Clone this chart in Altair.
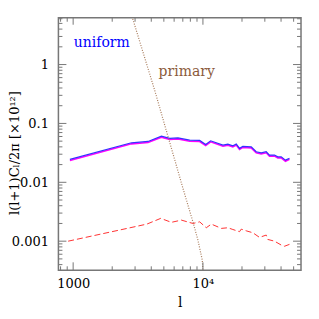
import altair as alt
import pandas as pd

# uniform (blue) and its companion (magenta)
l_uni = [944, 2813, 3776, 4786, 5546, 6427, 7907, 9441, 10499, 11470, 14270, 15570, 17010,
         18070, 19150, 20300, 23570, 25740, 28120, 30740, 32580, 35620, 37760, 40110, 43250, 46440]
c_blue = [0.0245, 0.0469, 0.0494, 0.0608, 0.0556, 0.0569, 0.052, 0.0514, 0.044, 0.0507, 0.0428,
          0.0446, 0.0417, 0.0446, 0.0377, 0.0407, 0.0401, 0.033, 0.0317, 0.033, 0.029, 0.029,
          0.0271, 0.0271, 0.0238, 0.0255]
c_mag = [0.0235, 0.045, 0.0474, 0.0584, 0.0534, 0.0546, 0.0499, 0.0493, 0.0422, 0.0487, 0.0411,
         0.0428, 0.04, 0.0428, 0.0362, 0.0391, 0.0385, 0.0317, 0.0304, 0.0317, 0.0278, 0.0278,
         0.026, 0.026, 0.0228, 0.0245]

# red dashed
l_red = [915, 3700, 4730, 5715, 6823, 8375, 9441, 10610, 11610, 13870, 15560, 17010, 19150,
         19720, 21560, 24260, 27290, 30740, 31620, 35620, 40110, 42500, 46440]
c_red = [0.001, 0.00195, 0.00244, 0.00209, 0.00228, 0.002, 0.00213, 0.00169, 0.00195, 0.00165,
         0.00169, 0.00158, 0.00145, 0.0016, 0.0015, 0.00139, 0.00116, 0.00127, 0.00107, 0.001,
         0.00086, 0.00082, 0.000883]

# primary (brown dotted)
l_pri = [2806, 4246, 7020, 8375, 9155, 9886, 10000, 10100]
c_pri = [7.2, 0.368, 0.00787, 0.00213, 0.00104, 0.000478, 0.00032, 0.0002]

# ticks
x_major = [1000, 10000]
x_minor = [800, 900, 2000, 3000, 4000, 5000, 6000, 7000, 8000, 9000, 20000, 30000, 40000, 50000]
y_major = [0.001, 0.01, 0.1, 1]
y_minor = [0.0004, 0.0005, 0.0006, 0.0007, 0.0008, 0.0009,
           0.002, 0.003, 0.004, 0.005, 0.006, 0.007, 0.008, 0.009,
           0.02, 0.03, 0.04, 0.05, 0.06, 0.07, 0.08, 0.09,
           0.2, 0.3, 0.4, 0.5, 0.6, 0.7, 0.8, 0.9,
           2, 3, 4, 5, 6]

# annotations
lab_text = ["uniform", "primary"]
lab_l = [1663, 7500]
lab_c = [2.31, 0.743]
lab_col = ["#0000ff", "#8b5a3a"]

W, H = 243, 253
FONT = "DejaVu Serif"
AX = "#777777"

xs = alt.Scale(type="log", domain=[770, 57000], nice=False)
ys = alt.Scale(type="log", domain=[3.2e-4, 6.24], nice=False)

xaxis = alt.Axis(values=x_major, labelExpr="datum.value == 1000 ? '1000' : '10⁴'",
                 ticks=False, domain=False, grid=False, labelPadding=7, labelFontSize=13,
                 labelFont=FONT, labelColor="black", title="l", titleFont=FONT,
                 titleFontSize=14, titleFontWeight="normal", titleY=36,
                 titleBaseline="alphabetic", titleColor="black")
yaxis = alt.Axis(values=y_major, format="~g", ticks=False, domain=False, grid=False,
                 labelPadding=10, labelFontSize=13, labelFont=FONT, labelColor="black",
                 title="l(l+1)Cₗ/2π  [×10¹²]", titleFont=FONT, titleFontSize=13,
                 titleFontWeight="normal", titleAngle=270, titleX=-44, titleY=135,
                 titleAlign="center", titleBaseline="middle", titleColor="black")

df_b = pd.DataFrame({"l": l_uni, "c": c_blue})
df_m = pd.DataFrame({"l": l_uni, "c": c_mag})
df_r = pd.DataFrame({"l": l_red, "c": c_red})
df_p = pd.DataFrame({"l": l_pri, "c": c_pri})
df_lab = pd.DataFrame({"l": lab_l, "c": lab_c, "t": lab_text, "col": lab_col})

base_x = alt.X("l:Q", scale=xs, axis=xaxis)
base_y = alt.Y("c:Q", scale=ys, axis=yaxis)

mag = alt.Chart(df_m).mark_line(color="#ff00ff", strokeWidth=1.6, clip=True).encode(x=base_x, y=base_y)
blue = alt.Chart(df_b).mark_line(color="#3333ff", strokeWidth=1.2, clip=True).encode(x=base_x, y=base_y)
red = alt.Chart(df_r).mark_line(color="#ff3333", strokeWidth=1, strokeDash=[6, 3], clip=True).encode(x=base_x, y=base_y)
pri = alt.Chart(df_p).mark_line(color="#a87c5c", strokeWidth=1.2, strokeDash=[1, 1.5], clip=True).encode(x=base_x, y=base_y)
labels = alt.Chart(df_lab).mark_text(font=FONT, fontSize=14).encode(
    x=alt.X("l:Q", scale=xs), y=alt.Y("c:Q", scale=ys),
    text="t:N", color=alt.Color("col:N", scale=None))

def xticks(vals, length, top):
    d = pd.DataFrame({"v": vals})
    if top:
        yv, y2v = alt.value(0), alt.value(length)
    else:
        yv, y2v = alt.value(H), alt.value(H - length)
    return alt.Chart(d).mark_rule(color=AX, strokeWidth=1).encode(
        x=alt.X("v:Q", scale=xs), y=yv, y2=y2v)

def yticks(vals, length, right):
    d = pd.DataFrame({"v": vals})
    if right:
        xv, x2v = alt.value(W), alt.value(W - length)
    else:
        xv, x2v = alt.value(0), alt.value(length)
    return alt.Chart(d).mark_rule(color=AX, strokeWidth=1).encode(
        y=alt.Y("v:Q", scale=ys), x=xv, x2=x2v)

ticks = [xticks(x_major, 8, False), xticks(x_minor, 4, False),
         xticks(x_major, 7, True), xticks(x_minor, 4, True),
         yticks(y_major, 8, False), yticks(y_minor, 4, False),
         yticks(y_major, 8, True), yticks(y_minor, 4, True)]

chart = alt.layer(mag, blue, red, pri, labels, *ticks).properties(
    width=W, height=H,
    autosize=alt.AutoSizeParams(type="none"),
    padding={"left": 50.5, "top": 9.5, "right": 10, "bottom": 40},
    background="white",
).configure_view(stroke=AX, strokeWidth=1.5)

chart.save("out.html", embed_options={"renderer": "svg", "actions": False})
